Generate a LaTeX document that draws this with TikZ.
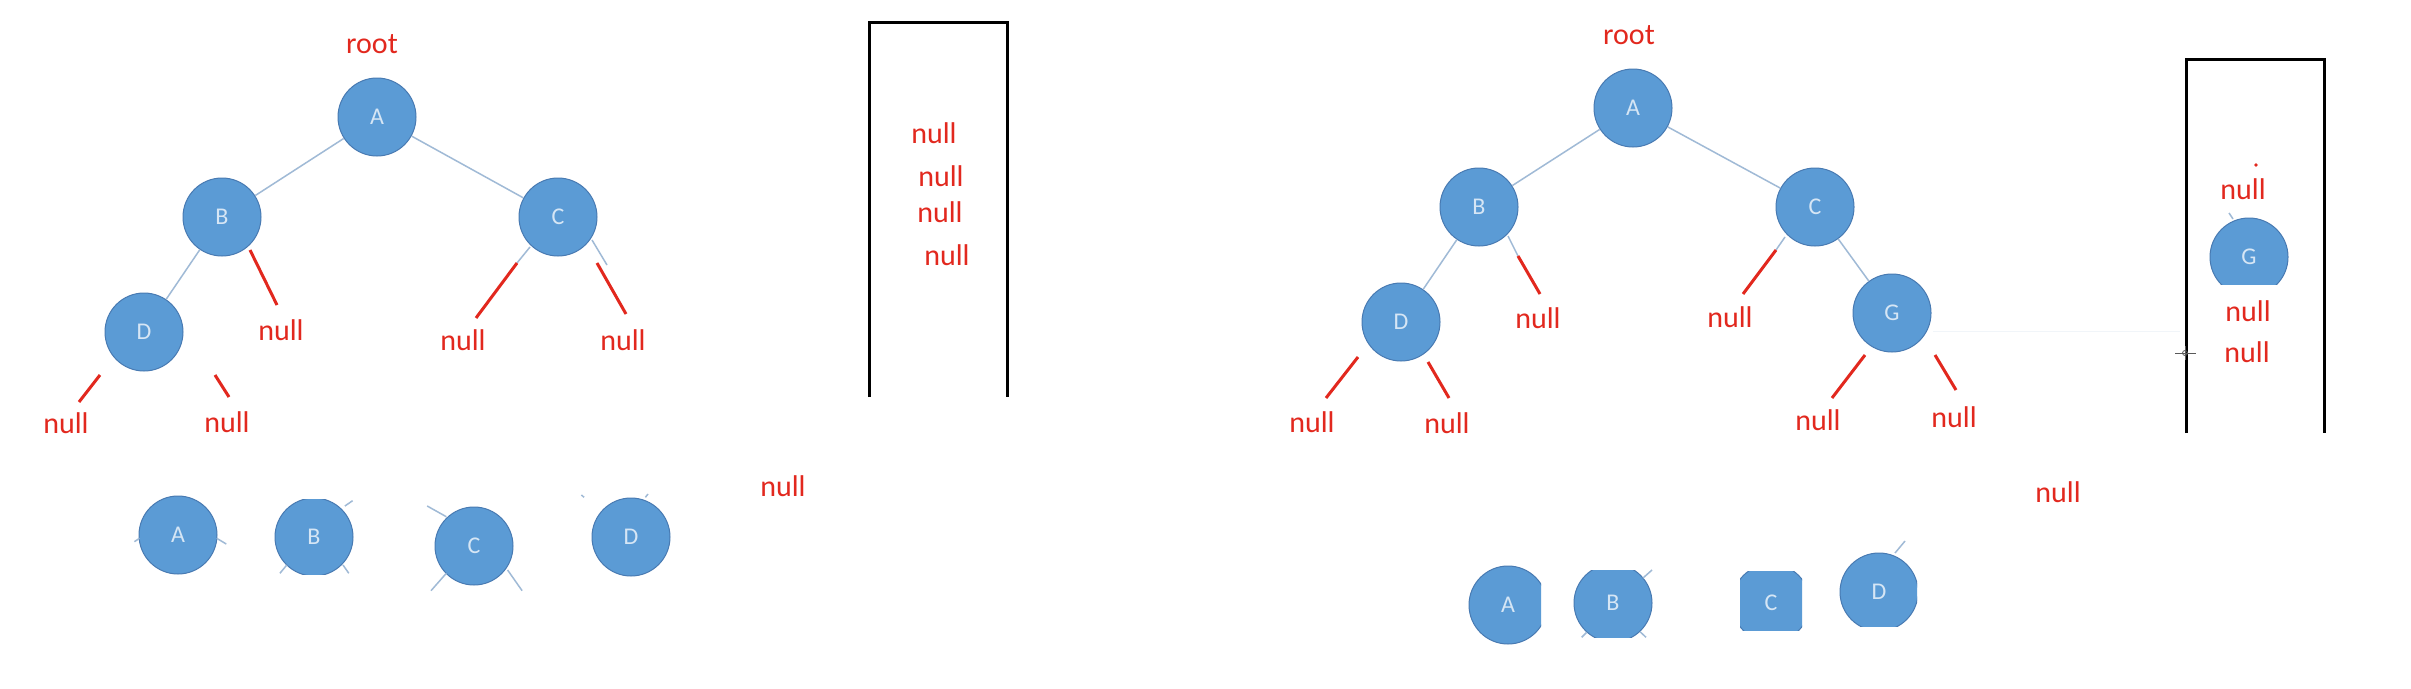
\documentclass[tikz,border=0pt]{standalone}
\usepackage{fontspec}
\setmainfont{Carlito}
\definecolor{nodeblue}{RGB}{91,155,213}
\definecolor{nodeborder}{RGB}{72,122,178}
\definecolor{nodetext}{RGB}{214,230,245}
\definecolor{edgeblue}{RGB}{160,186,214}
\definecolor{nullred}{RGB}{226,40,30}
\tikzset{
  tnode/.style={circle, minimum size=78pt, inner sep=0pt, fill=nodeblue, draw=nodeborder, line width=1pt, text=nodetext, font=\fontsize{24}{28}\selectfont},
  nulltxt/.style={inner sep=0pt, text=nullred, font=\fontsize{30}{34}\selectfont},
  edge/.style={draw=edgeblue, line width=1.5pt},
  redline/.style={draw=nullred, line width=3pt},
  stackline/.style={draw=black, line width=3pt},
}
\begin{document}
\begin{tikzpicture}[x=1pt,y=-1pt]
\useasboundingbox[fill=white] (0,0) rectangle (2411,688);

% ---------------- left tree ----------------
\node[nulltxt] (lroot) at (372,44) {root};
\node[tnode] (lA) at (377,117) {A};
\node[tnode] (lB) at (222,217) {B};
\node[tnode] (lC) at (558,217) {C};
\node[tnode] (lD) at (144,332) {D};
\draw[edge] (lA) -- (lB);
\draw[edge] (lA) -- (lC);
\draw[edge] (lB) -- (lD);
% blue stubs
\coordinate (lcs1) at (530,247); \coordinate (lcs2) at (517,263);
\coordinate (lcs3) at (592,240); \coordinate (lcs4) at (607,265);
\draw[edge] (lcs1) -- (lcs2);
\draw[edge] (lcs3) -- (lcs4);
% red lines
\coordinate (lbr1) at (250,250); \coordinate (lbr2) at (277,305);
\coordinate (lcl1) at (517,263); \coordinate (lcl2) at (476,318);
\coordinate (lcr1) at (597,263); \coordinate (lcr2) at (626,314);
\coordinate (ldl1) at (100,375); \coordinate (ldl2) at (79,402);
\coordinate (ldr1) at (215,375); \coordinate (ldr2) at (229,397);
\draw[redline] (lbr1) -- (lbr2);
\draw[redline] (lcl1) -- (lcl2);
\draw[redline] (lcr1) -- (lcr2);
\draw[redline] (ldl1) -- (ldl2);
\draw[redline] (ldr1) -- (ldr2);
\node[nulltxt] (lBn) at (281,330) {null};
\node[nulltxt] (lCln) at (463,340) {null};
\node[nulltxt] (lCrn) at (623,340) {null};
\node[nulltxt] (lDln) at (66,423) {null};
\node[nulltxt] (lDrn) at (227,422) {null};

% left stack
\coordinate (ls1) at (869,397); \coordinate (ls2) at (869,22);
\coordinate (ls3) at (1007,22); \coordinate (ls4) at (1007,397);
\draw[stackline] (ls1) -- (ls2) -- (ls3) -- (ls4);
\node[nulltxt] (lsn1) at (934,133) {null};
\node[nulltxt] (lsn2) at (941,176) {null};
\node[nulltxt] (lsn3) at (940,212) {null};
\node[nulltxt] (lsn4) at (947,255) {null};

% left bottom row
\node[tnode] (qA) at (178,535) {A};
\begin{scope}
  \clip (250,499) rectangle (380,574);
  \node[tnode] (qB) at (314,537) {B};
\end{scope}
\node[tnode] (qC) at (474,546) {C};
\node[tnode] (qD) at (631,537) {D};
\node[nulltxt] (qn) at (783,486) {null};
\coordinate (qa1) at (134.4,541.7); \coordinate (qa2) at (139.4,538.3);
\coordinate (qa3) at (216.7,538.3); \coordinate (qa4) at (226.3,544);
\coordinate (qb1) at (344.9,506); \coordinate (qb2) at (352.6,500.7);
\coordinate (qb3) at (279.9,573.3); \coordinate (qb4) at (286.8,565);
\coordinate (qb5) at (343,565); \coordinate (qb6) at (348.8,573.3);
\coordinate (qc1) at (427.2,506); \coordinate (qc2) at (446.3,516.7);
\coordinate (qc3) at (431,590.7); \coordinate (qc4) at (446.3,573.3);
\coordinate (qc5) at (507.6,570); \coordinate (qc6) at (522.1,590.7);
\coordinate (qd1) at (581.4,495); \coordinate (qd2) at (584.1,497.3);
\coordinate (qd3) at (645.4,497.3); \coordinate (qd4) at (648,494);
\draw[edge] (qa1) -- (qa2);
\draw[edge] (qa3) -- (qa4);
\draw[edge] (qb1) -- (qb2);
\draw[edge] (qb3) -- (qb4);
\draw[edge] (qb5) -- (qb6);
\draw[edge] (qc1) -- (qc2);
\draw[edge] (qc3) -- (qc4);
\draw[edge] (qc5) -- (qc6);
\draw[edge] (qd1) -- (qd2);
\draw[edge] (qd3) -- (qd4);

% ---------------- right tree ----------------
\node[nulltxt] (rroot) at (1629,35) {root};
\node[tnode] (rA) at (1633,108) {A};
\node[tnode] (rB) at (1479,207) {B};
\node[tnode] (rC) at (1815,207) {C};
\node[tnode] (rD) at (1401,322) {D};
\node[tnode] (rG) at (1892,313) {G};
\draw[edge] (rA) -- (rB);
\draw[edge] (rA) -- (rC);
\draw[edge] (rB) -- (rD);
\draw[edge] (rC) -- (rG);
\coordinate (rbs1) at (1508,236); \coordinate (rbs2) at (1518,256);
\coordinate (rcs1) at (1785,237); \coordinate (rcs2) at (1776,250);
\draw[edge] (rbs1) -- (rbs2);
\draw[edge] (rcs1) -- (rcs2);
\coordinate (rbr1) at (1518,256); \coordinate (rbr2) at (1540,294);
\coordinate (rcl1) at (1776,250); \coordinate (rcl2) at (1743,294);
\coordinate (rdl1) at (1358,357); \coordinate (rdl2) at (1326,398);
\coordinate (rdr1) at (1428,362); \coordinate (rdr2) at (1449,398);
\coordinate (rgl1) at (1865,355); \coordinate (rgl2) at (1832,398);
\coordinate (rgr1) at (1935,355); \coordinate (rgr2) at (1956,390);
\draw[redline] (rbr1) -- (rbr2);
\draw[redline] (rcl1) -- (rcl2);
\draw[redline] (rdl1) -- (rdl2);
\draw[redline] (rdr1) -- (rdr2);
\draw[redline] (rgl1) -- (rgl2);
\draw[redline] (rgr1) -- (rgr2);
\node[nulltxt] (rBn) at (1538,318) {null};
\node[nulltxt] (rCln) at (1730,317) {null};
\node[nulltxt] (rDln) at (1312,422) {null};
\node[nulltxt] (rDrn) at (1447,423) {null};
\node[nulltxt] (rGln) at (1818,420) {null};
\node[nulltxt] (rGrn) at (1954,417) {null};

% faint trace line
\coordinate (rf1) at (1933,331); \coordinate (rf2) at (2180,331);
\draw[draw=edgeblue!15, line width=1pt] (rf1) -- (rf2);

% right stack
\coordinate (rs1) at (2186,433); \coordinate (rs2) at (2186,59);
\coordinate (rs3) at (2324,59); \coordinate (rs4) at (2324,433);
\draw[stackline] (rs1) -- (rs2) -- (rs3) -- (rs4);
\fill[nullred] (2256,165) circle (1.8pt);
\node[nulltxt] (rsn1) at (2243,189) {null};
\begin{scope}
  \clip (2200,200) rectangle (2300,284);
  \node[tnode] (rsG) at (2249,257) {G};
\end{scope}
\coordinate (rsg1) at (2229,213); \coordinate (rsg2) at (2233,219);
\draw[edge] (rsg1) -- (rsg2);
\node[nulltxt] (rsn2) at (2248,311) {null};
\node[nulltxt] (rsn3) at (2247,352) {null};
% cursor
\coordinate (cur) at (2185,353);
\draw[gray!70!black, line width=1pt] ([xshift=-10pt]cur) -- ([xshift=11pt]cur);
\draw[gray!70!black, line width=1pt] ([yshift=-7pt]cur) -- ([yshift=7pt]cur);
\draw[gray!70!black, line width=0.8pt] (cur) circle (2.5pt);

% right bottom row
\node[nulltxt] (sn) at (2058,492) {null};
\begin{scope}
  \clip (1450,550) rectangle (1541,660);
  \node[tnode] (sA) at (1508,605) {A};
\end{scope}
\begin{scope}
  \clip (1560,570) rectangle (1670,637);
  \node[tnode] (sB) at (1613,603) {B};
\end{scope}
\begin{scope}
  \clip (1740,571) rectangle (1802,630);
  \node[tnode] (sC) at (1771,603) {C};
\end{scope}
\begin{scope}
  \clip (1830,540) rectangle (1917,626);
  \node[tnode] (sD) at (1879,592) {D};
\end{scope}
\coordinate (sb1) at (1643,578); \coordinate (sb2) at (1652,570);
\coordinate (sb3) at (1581.7,637.3); \coordinate (sb4) at (1586.7,632.3);
\coordinate (sb5) at (1640,631.7); \coordinate (sb6) at (1646,637.3);
\coordinate (sd1) at (1895,553); \coordinate (sd2) at (1905,541);
\draw[edge] (sb1) -- (sb2);
\draw[edge] (sb3) -- (sb4);
\draw[edge] (sb5) -- (sb6);
\draw[edge] (sd1) -- (sd2);
\end{tikzpicture}
\end{document}
